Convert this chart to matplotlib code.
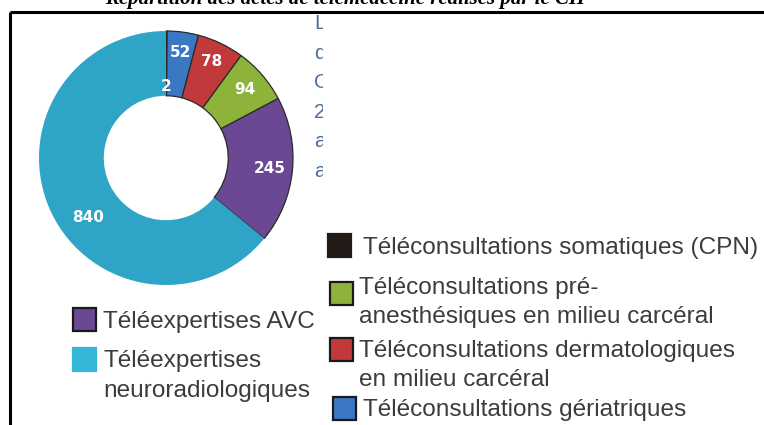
import matplotlib.pyplot as plt
import numpy as np
from matplotlib.patches import Rectangle
from matplotlib.transforms import Bbox, TransformedBbox

# valeurs du graphique (sens horaire depuis le haut)
categories = [
    'Téléconsultations somatiques (CPN)',
    'Téléconsultations gériatriques',
    'Téléconsultations dermatologiques\nen milieu carcéral',
    'Téléconsultations pré-\nanesthésiques en milieu carcéral',
    'Téléexpertises AVC',
    'Téléexpertises\nneuroradiologiques',
]
values = [2, 52, 78, 94, 245, 840]
colors = ['#231a17', '#3b78c3', '#c0393b', '#8db33a', '#6a4893', '#2ea5c6']
legend_colors = ['#231a17', '#3b78c3', '#c0393b', '#8db33a', '#6a4893', '#35b6d6']

title = "Répartition des actes de télémédecine réalisés par le CH"
cut_words = ['Les', 'de', 'CH', '20', 'au', 'au']

W, H = 764, 425
fig = plt.figure(figsize=(W / 100, H / 100), dpi=100)

# calque en pixels pour textes, cadre et légende
ax0 = fig.add_axes([0, 0, 1, 1])
ax0.set_xlim(0, W)
ax0.set_ylim(H, 0)
ax0.axis('off')

# titre coupé en haut
ax0.text(345, 4, title, ha='center', va='baseline', fontsize=15,
         family='Liberation Serif', weight='bold', style='italic', color='black')

# cadre
ax0.plot([10, W], [12, 12], color='black', lw=2.2, solid_capstyle='butt')
ax0.plot([10, 10], [12, H], color='black', lw=2.2, solid_capstyle='butt')

# colonne de texte masquée par la légende
clip = TransformedBbox(Bbox([[0, 12], [323, 212]]), ax0.transData)
for i, w in enumerate(cut_words):
    t = ax0.text(314, 29 + i * 29.5, w, ha='left', va='baseline', fontsize=15,
                 family='Liberation Sans', color='#4f6f99')
    t.set_clip_box(clip)
    t.set_clip_on(True)

# anneau
cx, cy, R = 166, 158, 127
axp = fig.add_axes([(cx - R) / W, 1 - (cy + R) / H, 2 * R / W, 2 * R / H])
wedges, _ = axp.pie(values, colors=colors, startangle=90, counterclock=False,
                    radius=1, wedgeprops=dict(width=0.51, edgecolor='#2a2a2a', linewidth=0.9))
wedges[-1].set_linewidth(0)
axp.set_xlim(-1, 1)
axp.set_ylim(-1, 1)
axp.set_aspect('equal')
axp.axis('off')

label_r = [0.56, 0.84, 0.84, 0.82, 0.82, 0.77]
label_shift = [0, 0, 0, 0, 0, 12]
for w, v, r, s in zip(wedges, values, label_r, label_shift):
    a = np.deg2rad((w.theta1 + w.theta2) / 2 + s)
    axp.text(r * np.cos(a), r * np.sin(a), str(v), ha='center', va='center',
             fontsize=11, weight='bold', color='white', family='DejaVu Sans')

# légende
txt_kw = dict(fontsize=17.6, family='Liberation Sans', color='#3c3c3c', va='baseline')
# (x carré, y carré, x texte, ligne de base) pour chaque catégorie
legend_pos = [
    (328, 234, 363, 254),
    (333, 397, 363, 416),
    (330, 338, 359, 357),
    (330, 282, 359, 294),
    (73, 308, 103, 328),
    (73, 348, 103, 367),
]
for lab, col, (sx, sy, tx, ty), edge in zip(categories, legend_colors, legend_pos,
                                              [False, True, True, True, True, False]):
    ax0.add_patch(Rectangle((sx, sy), 23, 23, facecolor=col,
                            edgecolor='#1a1a1a' if edge else col, lw=1.6))
    for k, line in enumerate(lab.split('\n')):
        ax0.text(tx, ty + k * 29.5, line, **txt_kw)

fig.savefig('out.png', dpi=100)
